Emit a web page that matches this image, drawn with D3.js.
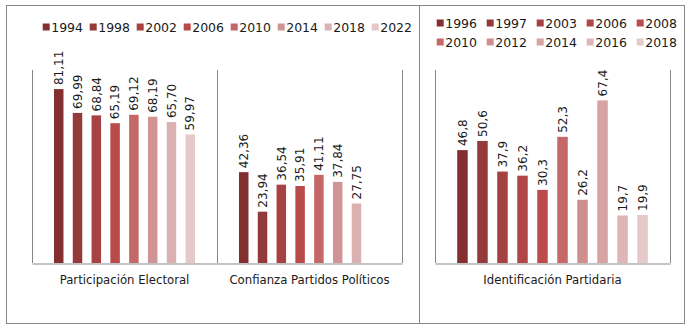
<!DOCTYPE html>
<html>
<head>
<meta charset="utf-8">
<script src="https://cdn.jsdelivr.net/npm/d3@7"></script>
<style>
  body { margin: 0; background: #fff; }
  text { font-family: 'DejaVu Sans', Verdana, sans-serif; fill: #1a1a1a; }
</style>
</head>
<body>
<svg id="chart" width="690" height="331"></svg>
<script>
// left panel
const leftCategories = ['Participación Electoral', 'Confianza Partidos Políticos'];
const leftSeries = ['1994', '1998', '2002', '2006', '2010', '2014', '2018', '2022'];
const participacion = [81.11, 69.99, 68.84, 65.19, 69.12, 68.19, 65.70, 59.97];
const confianza = [42.36, 23.94, 36.54, 35.91, 41.11, 37.84, 27.75, null];
const leftColors = ['#832f30', '#953a3a', '#a84242', '#b84a4a', '#c46767', '#d09494', '#dbb0b0', '#e6c8c9'];

// right panel
const rightCategories = ['Identificación Partidaria'];
const rightSeries = ['1996', '1997', '2003', '2006', '2008', '2010', '2012', '2014', '2016', '2018'];
const identificacion = [46.8, 50.6, 37.9, 36.2, 30.3, 52.3, 26.2, 67.4, 19.7, 19.9];
const rightColors = ['#832f30', '#953a3a', '#a54141', '#b04646', '#bc4b4b', '#c66868', '#cf8f8f', '#d8a3a3', '#dfb6b6', '#e6c9c9'];

const svg = d3.select('#chart');
const locale = d3.formatLocale({ decimal: ',', thousands: '.', grouping: [3], currency: ['', ''] });
const grey = '#878787';

// chart frames
svg.append('rect').attr('x', 6.5).attr('y', 5.5).attr('width', 413).attr('height', 318)
  .attr('fill', 'none').attr('stroke', grey);
svg.append('rect').attr('x', 419.5).attr('y', 5.5).attr('width', 265).attr('height', 318)
  .attr('fill', 'none').attr('stroke', grey);

function drawPanel(opts) {
  const x0 = d3.scaleBand().domain(opts.categories).range([opts.left, opts.right]);
  const x1 = d3.scaleBand().domain(opts.series).range([0, x0.bandwidth()])
    .paddingInner(opts.padInner).paddingOuter(opts.padOuter);
  const y = d3.scaleLinear().domain([0, opts.max]).range([263, 70]);
  const fmt = locale.format(opts.fmt);

  const g = svg.append('g');

  // category separators
  const bounds = opts.categories.map((c) => x0(c)).concat([opts.right]);
  g.selectAll('.sep').data(bounds).join('line')
    .attr('x1', (d) => Math.round(d) + 0.5).attr('x2', (d) => Math.round(d) + 0.5)
    .attr('y1', 70).attr('y2', 263)
    .attr('stroke', grey);

  opts.categories.forEach((cat, ci) => {
    const vals = opts.values[ci];
    const cg = g.append('g').attr('transform', `translate(${x0(cat)},0)`);
    const rows = opts.series.map((s, i) => ({ s, v: vals[i], c: opts.colors[i] })).filter((d) => d.v != null);

    cg.selectAll('rect').data(rows).join('rect')
      .attr('x', (d) => x1(d.s))
      .attr('width', x1.bandwidth())
      .attr('y', (d) => y(d.v))
      .attr('height', (d) => y(0) - y(d.v))
      .attr('fill', (d) => d.c);

    cg.selectAll('.lbl').data(rows).join('text')
      .attr('class', 'lbl')
      .attr('transform', (d) => `translate(${x1(d.s) + x1.bandwidth() / 2},${y(d.v) - 4}) rotate(-90)`)
      .attr('dy', '0.35em')
      .style('font-size', '12px')
      .text((d) => fmt(d.v));
  });

  const axis = g.append('g').attr('transform', 'translate(0,263.5)')
    .call(d3.axisBottom(x0).tickSize(0).tickPadding(12));
  axis.select('.domain').attr('stroke', grey);
  axis.selectAll('text').style('font-size', '11.7px').attr('fill', '#1a1a1a')
    .style('font-family', "'DejaVu Sans', sans-serif");

  // legend
  const leg = g.selectAll('.leg').data(opts.series).join('g')
    .attr('class', 'leg')
    .attr('transform', (d, i) => {
      const col = i % opts.perRow;
      const row = Math.floor(i / opts.perRow);
      return `translate(${opts.legX + col * opts.legStep},${opts.legY + row * 19})`;
    });
  leg.append('rect').attr('x', 0).attr('y', -3.5).attr('width', 7).attr('height', 7)
    .attr('fill', (d, i) => opts.colors[i]);
  leg.append('text').attr('x', 8.5).attr('dy', '0.36em')
    .style('font-size', '12.5px').text((d) => d);
}

drawPanel({
  categories: leftCategories,
  series: leftSeries,
  values: [participacion, confianza],
  colors: leftColors,
  left: 32, right: 402, max: 90,
  padInner: 0.495, padOuter: 1.17,
  fmt: '.2f',
  legX: 42.7, legY: 27, legStep: 47, perRow: 8
});

drawPanel({
  categories: rightCategories,
  series: rightSeries,
  values: [identificacion],
  colors: rightColors,
  left: 435, right: 670, max: 80,
  padInner: 0.475, padOuter: 1.11,
  fmt: '.1f',
  legX: 436.7, legY: 23, legStep: 50, perRow: 5
});
</script>
</body>
</html>
